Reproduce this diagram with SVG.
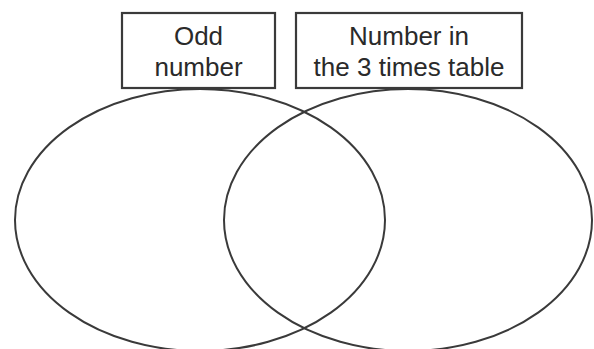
<svg xmlns="http://www.w3.org/2000/svg" width="594" height="349" viewBox="0 0 594 349">
<style>
.ring{fill:none;stroke:#3a3a3a;stroke-width:2}
.box{fill:#fff;stroke:#3a3a3a;stroke-width:2.2}
.lbl{font-family:"Liberation Sans",Arial,sans-serif;font-size:26px;fill:#2a2a2a;text-anchor:middle}
</style>
<rect width="594" height="349" fill="#fff"/>
<g id="connectors"></g>
<g id="set-odd">
<ellipse class="ring" cx="200" cy="220" rx="185" ry="131"/>
</g>
<g id="set-three">
<ellipse class="ring" cx="408" cy="220" rx="184" ry="131"/>
</g>
<g id="label-odd">
<rect class="box" x="122" y="13" width="153" height="75"/>
<text class="lbl" x="198.5" y="45">Odd</text>
<text class="lbl" x="198.5" y="76">number</text>
</g>
<g id="label-three">
<rect class="box" x="296" y="13" width="226" height="75"/>
<text class="lbl" x="409" y="45">Number in</text>
<text class="lbl" x="409" y="76">the 3 times table</text>
</g>
</svg>
